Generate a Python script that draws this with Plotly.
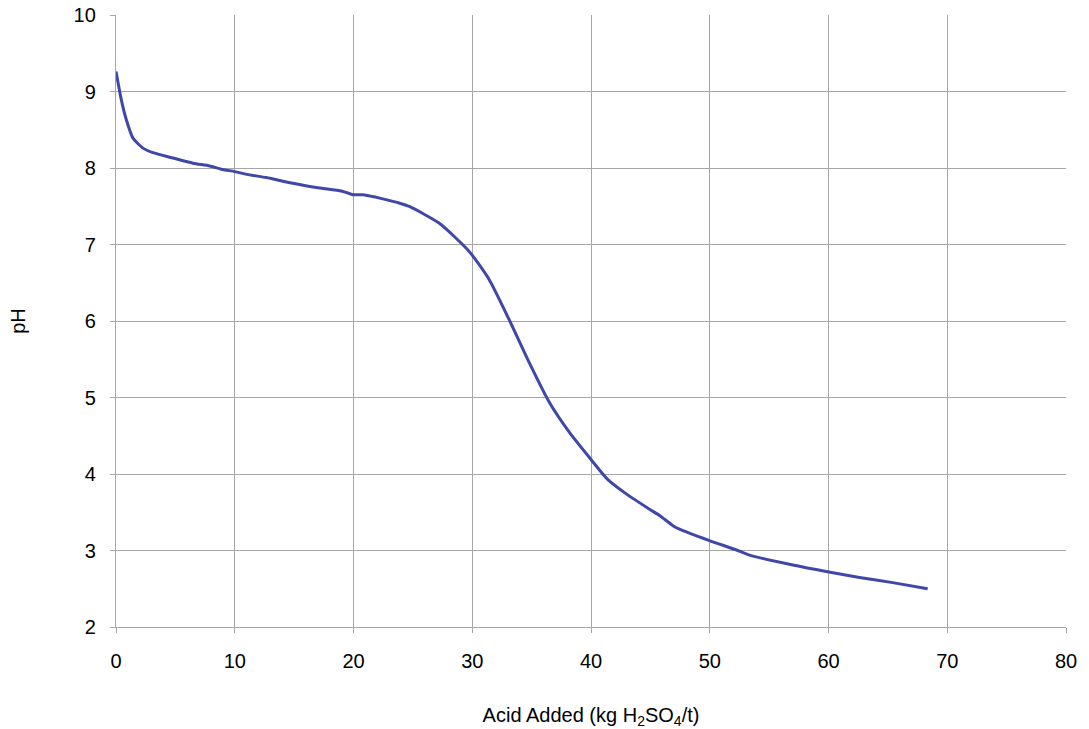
import plotly.graph_objects as go

acid_added = [0, 0.45, 0.87, 1.43, 2.27, 3.11, 4.8, 6.48, 7.89, 8.87, 10.0, 11.26, 12.66,
              14.9, 16.87, 18.97, 19.4, 19.95, 20.8, 21.6, 22.2, 23.9, 24.7, 27.2, 29.74,
              31.43, 33.1, 34.8, 36.5, 38.2, 40.0, 41.4, 43.0, 44.93, 45.8, 46.9, 47.45,
              49.98, 52.2, 53.35, 57.0, 59.8, 62.6, 65.4, 68.35]
ph = [9.26, 8.89, 8.63, 8.39, 8.26, 8.20, 8.13, 8.063, 8.027, 7.984, 7.953, 7.91, 7.875,
      7.80, 7.744, 7.70, 7.68, 7.65, 7.65, 7.627, 7.606, 7.54, 7.497, 7.28, 6.91,
      6.54, 6.02, 5.455, 4.934, 4.54, 4.19, 3.93, 3.737, 3.54, 3.455, 3.325, 3.28,
      3.13, 3.01, 2.94, 2.81, 2.725, 2.648, 2.58, 2.50]

x_ticks = [0, 10, 20, 30, 40, 50, 60, 70, 80]
y_ticks = [2, 3, 4, 5, 6, 7, 8, 9, 10]

FONT = "Liberation Sans, Arial, sans-serif"

fig = go.Figure(go.Scatter(
    x=acid_added, y=ph, mode="lines",
    line=dict(color="#3f47a8", width=3, shape="spline", smoothing=0.6),
    showlegend=False,
))

axis_common = dict(
    showgrid=True, gridcolor="#a6a6a6", gridwidth=1.3,
    showline=True, linecolor="#a6a6a6", linewidth=1.3,
    ticks="outside", ticklen=5, tickcolor="#a6a6a6",
    tickfont=dict(family=FONT, size=20, color="#000"),
    zeroline=False, mirror=False, automargin=False,
    ticklabeloverflow="allow",
)

fig.update_xaxes(range=[0, 80], tickvals=x_ticks, **axis_common,
                 ticklabelstandoff=11,
                 title=dict(text="Acid Added (kg H<sub>2</sub>SO<sub>4</sub>/t)",
                            font=dict(family=FONT, size=20, color="#000"),
                            standoff=36))
fig.update_yaxes(range=[2, 10], tickvals=y_ticks, **axis_common,
                 ticklabelstandoff=10,
                 title=dict(text="pH",
                            font=dict(family=FONT, size=20, color="#000"),
                            standoff=42))

fig.update_layout(
    width=1089, height=729,
    margin=dict(l=116, r=23, t=15, b=102),
    paper_bgcolor="white", plot_bgcolor="white",
    font=dict(family=FONT, size=20, color="#000"),
)

fig.write_html("out.html", config={"displayModeBar": False},
               post_script="document.body.style.margin='0';")
